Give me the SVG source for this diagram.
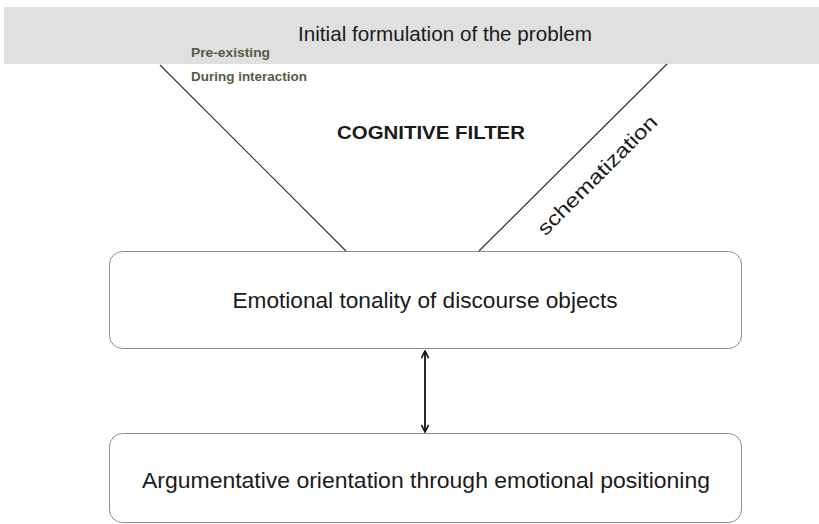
<svg xmlns="http://www.w3.org/2000/svg" width="819" height="524" viewBox="0 0 819 524">
<defs>
<style>
.t{font-family:"Liberation Sans",Arial,sans-serif;fill:#1a1a1a}
.lbl{font-family:"Liberation Sans",Arial,sans-serif;font-weight:bold;font-size:13px;fill:#5a5a3c}
.box{fill:#fff;stroke:#8c8c8c;stroke-width:1}
.ln{stroke:#333;stroke-width:1.2;fill:none}
</style>
<marker id="ah" viewBox="0 0 10 10" refX="9" refY="5" markerWidth="9" markerHeight="9" orient="auto-start-reverse" markerUnits="userSpaceOnUse">
<path d="M1,1 L9,5 L1,9" fill="none" stroke="#111" stroke-width="1.8"/>
</marker>
</defs>
<rect width="819" height="524" fill="#fff"/>
<g id="top">
<rect x="4" y="7" width="815" height="57" fill="#e0e0e0"/>
<text class="t" x="445" y="41" font-size="21" text-anchor="middle" textLength="294" lengthAdjust="spacingAndGlyphs">Initial formulation of the problem</text>
</g>
<g id="labels">
<text class="lbl" x="191" y="57" textLength="79" lengthAdjust="spacingAndGlyphs">Pre-existing</text>
<text class="lbl" x="191" y="81" textLength="116" lengthAdjust="spacingAndGlyphs">During interaction</text>
<text class="t" x="431" y="139" font-size="18" font-weight="bold" text-anchor="middle" textLength="188" lengthAdjust="spacingAndGlyphs">COGNITIVE FILTER</text>
<text class="t" transform="translate(602,180) rotate(-45)" font-size="20" text-anchor="middle" textLength="160" lengthAdjust="spacingAndGlyphs">schematization</text>
</g>
<g id="connectors">
<line class="ln" x1="160" y1="65" x2="346" y2="251"/>
<line class="ln" x1="667" y1="64" x2="479" y2="251"/>
<line x1="425" y1="351" x2="425" y2="432" stroke="#111" stroke-width="1.8" marker-start="url(#ah)" marker-end="url(#ah)"/>
</g>
<g id="node1">
<rect class="box" x="109.5" y="251.5" width="632" height="97" rx="13"/>
<text class="t" x="425" y="308" font-size="22" text-anchor="middle" textLength="385" lengthAdjust="spacingAndGlyphs">Emotional tonality of discourse objects</text>
</g>
<g id="node2">
<rect class="box" x="109.5" y="433.5" width="632" height="89" rx="13"/>
<text class="t" x="426" y="488" font-size="22" text-anchor="middle" textLength="568" lengthAdjust="spacingAndGlyphs">Argumentative orientation through emotional positioning</text>
</g>
</svg>
